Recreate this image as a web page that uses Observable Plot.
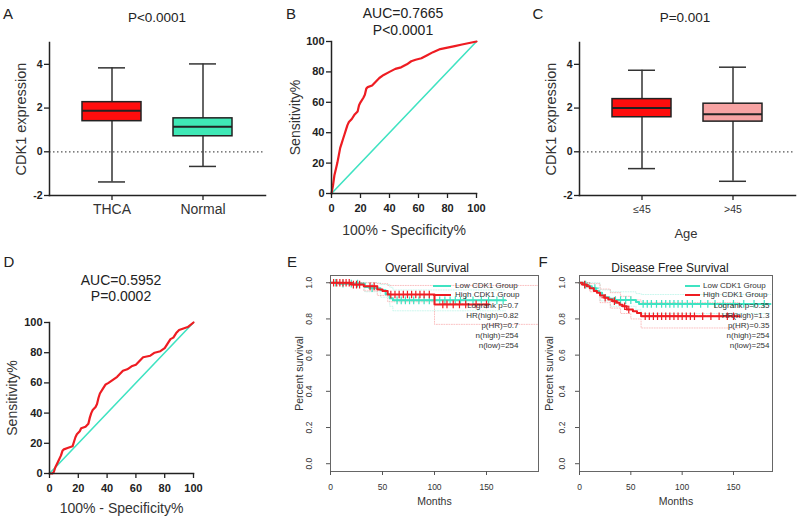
<!DOCTYPE html>
<html><head><meta charset="utf-8">
<script src="https://cdn.jsdelivr.net/npm/d3@7"></script>
<script src="https://cdn.jsdelivr.net/npm/@observablehq/plot@0.6"></script>
<style>
body{margin:0;background:#fff;}
#fig{position:relative;width:800px;height:519px;overflow:hidden;background:#fff;font-family:"Liberation Sans",Arial,sans-serif;color:#222;}
#fig svg{position:absolute;overflow:visible;}
.lbl{position:absolute;transform:translate(-50%,-50%);white-space:nowrap;line-height:1;}
.leg{position:absolute;transform:translateY(-50%);white-space:nowrap;line-height:1;font-size:8px;color:#333;}
.sw{position:absolute;height:2px;}
</style></head><body><div id="fig"></div>
<script>
// ---------- Panel A: CDK1 expression, THCA vs Normal ----------
const catsA = ["THCA", "Normal"];
const minA = [-1.38, -0.67];
const q1A = [1.40, 0.71];
const medA = [1.88, 1.15];
const q3A = [2.27, 1.53];
const maxA = [3.84, 4.02];
const fillA = ["#ff0d0d", "#3fe8b6"];

// ---------- Panel C: CDK1 expression by age ----------
const catsC = ["≤45", ">45"];
const minC = [-0.77, -1.35];
const q1C = [1.58, 1.38];
const medC = [2.0, 1.72];
const q3C = [2.41, 2.2];
const maxC = [3.73, 3.87];
const fillC = ["#ff0d0d", "#f7a3a3"];
const boxTicks = [-2, 0, 2, 4];

// ---------- Panel B: ROC (tumor vs normal) ----------
const rocB_fpr = [0, 1, 2, 3, 4, 5, 6, 7, 8, 9, 10, 11, 12, 14, 16, 18, 19, 20, 22, 23, 24, 25, 28, 30, 33, 36, 40, 44, 48, 52, 55, 58, 62, 66, 70, 75, 80, 85, 90, 95, 100];
const rocB_tpr = [0, 5, 12, 16, 20, 25, 30, 33, 36, 39, 42, 45, 47, 49, 52, 54, 58, 60, 63, 65, 69, 70, 71, 73, 76, 78, 80, 82, 83, 85, 87, 88, 89, 91, 93, 95, 96, 97, 98, 99, 100];

// ---------- Panel D: ROC (age) ----------
const rocD_fpr = [0, 2, 3, 4, 6, 8, 9, 10, 13, 16, 17, 18, 19, 21, 22, 25, 27, 28, 29, 30, 32, 33, 34, 35, 37, 39, 41, 44, 47, 49, 51, 54, 57, 60, 62, 65, 70, 73, 77, 80, 82, 84, 86, 88, 90, 93, 96, 100];
const rocD_tpr = [0, 0, 1, 4, 8, 12, 15, 16, 17, 18, 21, 24, 26, 28, 30, 31, 33, 37, 40, 42, 44, 46, 50, 53, 56, 59, 60, 62, 64, 66, 68, 69, 71, 72, 74, 77, 78, 80, 81, 83, 86, 89, 90, 93, 95, 96, 97, 100];
const diagX = [0, 100];
const diagY = [0, 100];
const rocTicks = [0, 20, 40, 60, 80, 100];

// ---------- Panel E: Overall survival ----------
const osLowT = [0, 8, 33, 38, 48, 53, 57, 60, 168];
const osLowS = [1, 0.995, 0.976, 0.97, 0.958, 0.936, 0.914, 0.903, 0.903];
const osHighT = [0, 20, 32, 45, 50, 55, 100, 152];
const osHighS = [1, 0.99, 0.98, 0.963, 0.955, 0.935, 0.88, 0.88];
const osLowLoT = [0, 33, 48, 57, 60, 168];
const osLowLo = [1, 0.95, 0.92, 0.87, 0.845, 0.845];
const osLowHi = [1, 1, 0.99, 0.975, 0.96, 0.96];
const osHighLoT = [0, 32, 45, 55, 100, 200];
const osHighLo = [1, 0.955, 0.93, 0.895, 0.77, 0.77];
const osHighHi = [1, 1, 0.995, 0.985, 0.985, 0.985];
const osLowCens = [5, 12, 20, 26, 40, 64, 68, 72, 76, 80, 85, 90, 95, 100, 105, 110, 115, 120, 125, 130, 137, 145, 152, 160, 166];
const osHighCens = [3, 6, 9, 12, 15, 18, 22, 25, 28, 38, 42, 58, 62, 66, 70, 74, 78, 82, 86, 90, 95, 108, 112, 118, 124, 130, 140, 150];
const osStats = ["Logrank p=0.7", "HR(high)=0.82", "p(HR)=0.7", "n(high)=254", "n(low)=254"];

// ---------- Panel F: Disease free survival ----------
const dfsLowT = [0, 4, 8, 12, 16, 19, 22, 25, 29, 34, 55, 58, 186];
const dfsLowS = [1, 0.99, 0.98, 0.97, 0.955, 0.945, 0.93, 0.92, 0.912, 0.904, 0.893, 0.883, 0.883];
const dfsHighT = [0, 3, 7, 10, 14, 17, 20, 24, 28, 32, 36, 39, 42, 46, 52, 56, 60, 156];
const dfsHighS = [1, 0.99, 0.98, 0.97, 0.955, 0.944, 0.93, 0.917, 0.907, 0.898, 0.889, 0.878, 0.87, 0.852, 0.843, 0.833, 0.815, 0.815];
const dfsLowLoT = [0, 10, 20, 30, 55, 60, 186];
const dfsLowLo = [1, 0.96, 0.9, 0.87, 0.85, 0.83, 0.83];
const dfsLowHi = [1, 1, 0.96, 0.95, 0.94, 0.935, 0.935];
const dfsHighLoT = [0, 10, 20, 30, 40, 50, 60, 156];
const dfsHighLo = [1, 0.95, 0.89, 0.86, 0.83, 0.8, 0.75, 0.75];
const dfsHighHi = [1, 0.995, 0.965, 0.945, 0.925, 0.905, 0.89, 0.89];
const dfsLowCens = [6, 15, 35, 40, 45, 50, 62, 66, 70, 75, 80, 84, 88, 92, 96, 100, 105, 110, 118, 125, 132, 140, 150, 160, 170, 180];
const dfsHighCens = [5, 25, 34, 44, 48, 64, 68, 72, 76, 80, 84, 88, 92, 96, 100, 104, 108, 112, 120, 128, 136, 144, 150];
const dfsStats = ["Logrank p=0.35", "HR(high)=1.3", "p(HR)=0.35", "n(high)=254", "n(low)=254"];
const survYTicks = [0, 0.2, 0.4, 0.6, 0.8, 1.0];
const survXTicks = [0, 50, 100, 150];
const groupNames = ["Low CDK1 Group", "High CDK1 Group"];

const FONT = '"Liberation Sans", Arial, sans-serif';
const RED = "#ee1c22";
const TEAL = "#3fe3c2";
const fig = document.getElementById("fig");
const hyphenFmt = d => (d < 0 ? "-" + Math.abs(d) : String(d));

function place(el, left, top) {
  el.style.left = left + "px";
  el.style.top = top + "px";
  fig.appendChild(el);
}
function label(text, x, y, size, extra = {}) {
  const d = document.createElement("div");
  d.className = "lbl";
  d.textContent = text;
  d.style.left = x + "px";
  d.style.top = y + "px";
  d.style.fontSize = size + "px";
  Object.assign(d.style, extra);
  fig.appendChild(d);
}

function boxPanel(cats, mins, q1s, meds, q3s, maxs, fills, xFont, xPad) {
  const data = cats.map((c, i) => ({c, lo: mins[i], q1: q1s[i], med: meds[i], q3: q3s[i], hi: maxs[i], fill: fills[i]}));
  return Plot.plot({
    width: 270, height: 260, marginLeft: 49, marginTop: 42, marginBottom: 65, marginRight: 5,
    style: {fontFamily: FONT, background: "transparent", color: "#222"},
    x: {type: "band", domain: cats, paddingInner: 0.35, paddingOuter: 0.35},
    y: {domain: [-2, 5]},
    color: {type: "identity"},
    marks: [
      Plot.ruleY([0], {stroke: "#555", strokeWidth: 1.3, strokeDasharray: "1.5,2.5"}),
      Plot.ruleX(data, {x: "c", y1: "lo", y2: "hi", stroke: "#333", strokeWidth: 1.5}),
      Plot.tickY(data, {x: "c", y: "lo", stroke: "#333", strokeWidth: 1.5, insetLeft: 16, insetRight: 16}),
      Plot.tickY(data, {x: "c", y: "hi", stroke: "#333", strokeWidth: 1.5, insetLeft: 16, insetRight: 16}),
      Plot.barY(data, {x: "c", y1: "q1", y2: "q3", fill: "fill", stroke: "#222", strokeWidth: 1.5}),
      Plot.tickY(data, {x: "c", y: "med", stroke: "#222", strokeWidth: 2}),
      Plot.axisY({ticks: boxTicks, tickFormat: hyphenFmt, tickSize: 5, tickPadding: 2, fontSize: 10.5, fontWeight: "bold", label: null, stroke: "#222", strokeWidth: 1.3}),
      Plot.axisX({tickSize: 5, tickPadding: xPad, fontSize: xFont, label: null, stroke: "#222", strokeWidth: 1.3, fill: "#333"}),
      Plot.frame({anchor: "left", strokeWidth: 1.5, stroke: "#222"}),
      Plot.frame({anchor: "bottom", strokeWidth: 1.5, stroke: "#222"}),
      Plot.text(["CDK1 expression"], {frameAnchor: "left", textAnchor: "middle", lineAnchor: "middle", rotate: -90, dx: -28, fontSize: 14.5, fill: "#333"})
    ]
  });
}

function rocPanel(fpr, tpr, dims, xLabelDy, yLabelDx, xTickPad) {
  const roc = fpr.map((f, i) => ({f, t: tpr[i]}));
  const diag = diagX.map((x, i) => ({x, y: diagY[i]}));
  return Plot.plot({
    ...dims,
    style: {fontFamily: FONT, background: "transparent", color: "#222"},
    x: {domain: [0, 100]},
    y: {domain: [0, 100]},
    marks: [
      Plot.line(diag, {x: "x", y: "y", stroke: TEAL, strokeWidth: 1.6}),
      Plot.line(roc, {x: "f", y: "t", stroke: RED, strokeWidth: 2.2}),
      Plot.axisY({ticks: rocTicks, tickFormat: hyphenFmt, tickSize: 5, tickPadding: 2, fontSize: 11, fontWeight: "bold", label: null, stroke: "#222", strokeWidth: 1.3}),
      Plot.axisX({ticks: rocTicks, tickFormat: hyphenFmt, tickSize: 5, tickPadding: xTickPad, fontSize: 11, fontWeight: "bold", label: null, stroke: "#222", strokeWidth: 1.3}),
      Plot.frame({anchor: "left", strokeWidth: 1.5, stroke: "#222"}),
      Plot.frame({anchor: "bottom", strokeWidth: 1.5, stroke: "#222"}),
      Plot.text(["Sensitivity%"], {frameAnchor: "left", textAnchor: "middle", lineAnchor: "middle", rotate: -90, dx: yLabelDx, fontSize: 14, fill: "#333"}),
      Plot.text(["100% - Specificity%"], {frameAnchor: "bottom", textAnchor: "middle", lineAnchor: "middle", dy: xLabelDy, fontSize: 14, fill: "#333"})
    ]
  });
}

function steps(ts, ss) { return ts.map((t, i) => ({t, s: ss[i]})); }
function stepAt(ts, ss, t) { const i = d3.bisectRight(ts, t) - 1; return ss[Math.max(0, i)]; }

function survPanel(o) {
  const low = steps(o.lowT, o.lowS), high = steps(o.highT, o.highS);
  const ci = [
    ...steps(o.lowLoT, o.lowLo).map(d => ({...d, k: "ll", c: TEAL})),
    ...steps(o.lowLoT, o.lowHi).map(d => ({...d, k: "lh", c: TEAL})),
    ...steps(o.highLoT, o.highLo).map(d => ({...d, k: "hl", c: RED})),
    ...steps(o.highLoT, o.highHi).map(d => ({...d, k: "hh", c: RED}))
  ];
  const lowC = o.lowCens.map(t => ({t, s: stepAt(o.lowT, o.lowS, t)}));
  const highC = o.highCens.map(t => ({t, s: stepAt(o.highT, o.highS, t)}));
  return Plot.plot({
    width: o.width, height: 259, marginLeft: o.ml, marginTop: 15, marginBottom: 48, marginRight: o.mr,
    style: {fontFamily: FONT, background: "transparent", color: "#333"},
    x: {domain: [0, o.xmax]},
    y: {domain: [-0.043, 1.04]},
    color: {type: "identity"},
    marks: [
      Plot.line(ci, {x: "t", y: "s", z: "k", stroke: "c", strokeWidth: 0.9, strokeOpacity: 0.3, strokeDasharray: "1,1.5", curve: "step-after"}),
      Plot.line(low, {x: "t", y: "s", stroke: TEAL, strokeWidth: 2, curve: "step-after"}),
      Plot.dot(lowC, {x: "t", y: "s", symbol: "plus", r: 2.6, stroke: TEAL, strokeWidth: 1.2}),
      Plot.line(high, {x: "t", y: "s", stroke: RED, strokeWidth: 2, curve: "step-after"}),
      Plot.dot(highC, {x: "t", y: "s", symbol: "plus", r: 2.6, stroke: RED, strokeWidth: 1.2}),
      Plot.frame({stroke: "#666", strokeWidth: 1}),
      Plot.axisX({ticks: survXTicks, tickSize: 4, tickPadding: 8, fontSize: 8.5, label: null, stroke: "#555"}),
      Plot.axisY({ticks: survYTicks, tickSize: 4, tickFormat: () => "", label: null, stroke: "#555"}),
      Plot.text(survYTicks, {y: d => d, text: d => d.toFixed(1), frameAnchor: "left", textAnchor: "middle", lineAnchor: "middle", rotate: -90, dx: o.tickDx, fontSize: 8.5}),
      Plot.text(["Percent survival"], {frameAnchor: "left", textAnchor: "middle", lineAnchor: "middle", rotate: -90, dx: o.labelDx, fontSize: 10.5}),
      Plot.text(["Months"], {frameAnchor: "bottom", textAnchor: "middle", lineAnchor: "middle", dy: 30, fontSize: 10.5}),
      Plot.text([o.stats.join("\n")], {frameAnchor: "top-right", textAnchor: "end", lineAnchor: "top", dx: o.statsDx, dy: 25, fontSize: 8, lineHeight: 1.25, fill: "#333"})
    ]
  });
}

// Build panels
place(boxPanel(catsA, minA, q1A, medA, q3A, maxA, fillA, 14, 4), 0, 0);
place(rocPanel(rocB_fpr, rocB_tpr, {width: 260, height: 260, marginLeft: 61, marginTop: 41, marginBottom: 67, marginRight: 54}, 37, -36, 6), 270, 0);
place(boxPanel(catsC, minC, q1C, medC, q3C, maxC, fillC, 10.5, 5), 530, 0);
place(rocPanel(rocD_fpr, rocD_tpr, {width: 270, height: 259, marginLeft: 49, marginTop: 62, marginBottom: 46, marginRight: 77}, 35, -37, 5.5), 0, 260);
place(survPanel({width: 270, ml: 60, mr: 2, xmax: 200, tickDx: -21, labelDx: -31, lowT: osLowT, lowS: osLowS, highT: osHighT, highS: osHighS,
  lowLoT: osLowLoT, lowLo: osLowLo, lowHi: osLowHi, highLoT: osHighLoT, highLo: osHighLo, highHi: osHighHi,
  lowCens: osLowCens, highCens: osHighCens, stats: osStats, statsDx: -20}), 270, 260);
place(survPanel({width: 260, ml: 39, mr: 28, xmax: 188, tickDx: -17, labelDx: -30, lowT: dfsLowT, lowS: dfsLowS, highT: dfsHighT, highS: dfsHighS,
  lowLoT: dfsLowLoT, lowLo: dfsLowLo, lowHi: dfsLowHi, highLoT: dfsHighLoT, highLo: dfsHighLo, highHi: dfsHighHi,
  lowCens: dfsLowCens, highCens: dfsHighCens, stats: dfsStats, statsDx: -3}), 540, 260);

// Panel letters
label("A", 8, 13, 15);
label("B", 291, 13, 15);
label("C", 538, 13, 15);
label("D", 9, 261, 15);
label("E", 292, 261, 15);
label("F", 543, 261, 15);

// Titles
label("P<0.0001", 157, 18, 13.5);
label("AUC=0.7665", 403, 13, 14);
label("P<0.0001", 403, 30, 14);
label("P=0.001", 685, 18, 13.5);
label("Age", 686, 233, 13, {color: "#333"});
label("AUC=0.5952", 121, 280, 14);
label("P=0.0002", 121, 296, 14);
label("Overall Survival", 427, 268, 12);
label("Disease Free Survival", 670, 268, 12);

// Survival legends
function legend(x0, x1, tx) {
  [TEAL, RED].forEach((c, i) => {
    const y = 286 + i * 8.5;
    const s = document.createElement("div");
    s.className = "sw";
    s.style.background = c;
    s.style.left = x0 + "px"; s.style.width = (x1 - x0) + "px"; s.style.top = (y - 1) + "px";
    fig.appendChild(s);
    const t = document.createElement("div");
    t.className = "leg";
    t.textContent = groupNames[i];
    t.style.left = tx + "px"; t.style.top = y + "px";
    fig.appendChild(t);
  });
}
legend(433, 451, 455);
legend(685, 700, 703);
</script></body></html>
